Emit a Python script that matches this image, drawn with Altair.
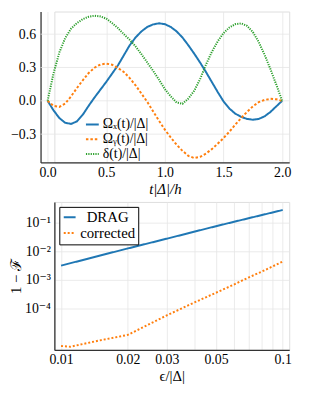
import altair as alt
import pandas as pd

# ---------------- data ----------------
t = [0.0, 0.05, 0.1, 0.15, 0.2, 0.25, 0.3, 0.35, 0.4, 0.45, 0.5,
     0.55, 0.6, 0.65, 0.7, 0.75, 0.8, 0.85, 0.9, 0.95, 1.0,
     1.05, 1.1, 1.15, 1.2, 1.25, 1.3, 1.35, 1.4, 1.45, 1.5,
     1.55, 1.6, 1.65, 1.7, 1.75, 1.8, 1.85, 1.9, 1.95, 2.0]
omega_x = [0.0, -0.085, -0.155, -0.198, -0.208, -0.185, -0.125, -0.045, 0.03, 0.10, 0.17,
           0.245, 0.32, 0.41, 0.50, 0.57, 0.625, 0.665, 0.688, 0.698, 0.69,
           0.665, 0.625, 0.57, 0.50, 0.425, 0.345, 0.26, 0.17, 0.08, -0.005,
           -0.07, -0.115, -0.145, -0.163, -0.17, -0.163, -0.14, -0.10, -0.05, 0.0]
omega_y = [0.0, -0.045, -0.055, -0.025, 0.04, 0.115, 0.185, 0.25, 0.298, 0.327, 0.335,
           0.325, 0.295, 0.26, 0.205, 0.14, 0.065, -0.01, -0.095, -0.18, -0.26,
           -0.33, -0.395, -0.45, -0.495, -0.515, -0.505, -0.475, -0.435, -0.387, -0.335,
           -0.278, -0.215, -0.155, -0.1, -0.05, -0.012, 0.008, 0.018, 0.014, 0.0]
delta = [0.0, 0.245, 0.435, 0.565, 0.65, 0.70, 0.735, 0.757, 0.766, 0.76, 0.74,
         0.70, 0.655, 0.60, 0.55, 0.49, 0.42, 0.345, 0.27, 0.19, 0.105,
         0.04, -0.015, -0.027, 0.02, 0.09, 0.195, 0.325, 0.44, 0.535, 0.61,
         0.66, 0.69, 0.697, 0.675, 0.62, 0.53, 0.415, 0.285, 0.145, 0.0]
top_names = ["Ωₓ(t)/|Δ|", "Ωᵧ(t)/|Δ|", "δ(t)/|Δ|"]

eps_drag = [0.01, 0.02, 0.03, 0.05, 0.07, 0.1]
infid_drag = [3.16e-3, 1.27e-2, 2.8e-2, 7.7e-2, 0.146, 0.286]
eps_corr = [0.01, 0.011, 0.015, 0.02, 0.03, 0.04, 0.05, 0.06, 0.07, 0.08, 0.09, 0.1]
infid_corr = [4.7e-6, 4.4e-6, 7.4e-6, 1.15e-5, 5.6e-5, 1.6e-4, 3.5e-4, 6.7e-4,
              1.2e-3, 1.9e-3, 2.95e-3, 4.4e-3]
bottom_names = ["DRAG", "corrected"]

x_domain_top = [-0.06, 2.06]
y_domain_top = [-0.555, 0.804]
x_ticks_top = [0.0, 0.5, 1.0, 1.5, 2.0]
y_ticks_top = [-0.3, 0.0, 0.3, 0.6]
x_grid_bottom = [0.01, 0.02, 0.03, 0.04, 0.05, 0.06, 0.07, 0.08, 0.09, 0.1]
y_ticks_bottom = [0.1, 0.01, 0.001, 0.0001]

# ---------------- tables ----------------
rows = []
for name, vals in zip(top_names, [omega_x, omega_y, delta]):
    for ti, v in zip(t, vals):
        rows.append({"t": ti, "v": v, "series": name})
df_top = pd.DataFrame(rows)
df_ygrid = pd.DataFrame({"t": [x_domain_top[0]] * len(y_ticks_top),
                         "t2": [x_domain_top[1]] * len(y_ticks_top),
                         "v": y_ticks_top})

rows = []
for name, xs, ys in [(bottom_names[0], eps_drag, infid_drag),
                     (bottom_names[1], eps_corr, infid_corr)]:
    for e, f in zip(xs, ys):
        rows.append({"eps": e, "f": f, "series": name})
df_bot = pd.DataFrame(rows)

SERIF = "'Liberation Serif', 'Times New Roman', 'DejaVu Serif', serif"
BLUE, ORANGE, GREEN = "#1f77b4", "#ff7f0e", "#2ca02c"
GRID = "#e6e6e6"
AX = "#333333"

W = 238          # panel width; the top plot extends SHIFT px further left
SHIFT = 14

def axis(**kw):
    base = dict(domainColor=AX, domainWidth=1.3, gridColor=GRID, gridWidth=0.8,
                ticks=False, labelFont=SERIF, labelFontSize=14, labelColor="black",
                titleFont=SERIF, titleFontSize=15, titleFontWeight="normal",
                titleColor="black")
    base.update(kw)
    return alt.Axis(**base)

x_axis_top = axis(values=x_ticks_top, format=".1f", title="t|Δ|/h",
                  titleFontStyle="italic", labelPadding=3, titlePadding=2,
                  titleX=(W - SHIFT) / 2)
y_axis_top = axis(values=y_ticks_top, format=".1f", title=None, labelPadding=5,
                  offset=SHIFT, grid=False)
x_scale_top = alt.Scale(domain=x_domain_top, range=[-SHIFT, W], nice=False, zero=False)
y_scale_top = alt.Scale(domain=y_domain_top, nice=False, zero=False)

top_legend = alt.Legend(title=None, orient="none", legendX=31, legendY=107,
                        symbolType="stroke", symbolSize=169, symbolStrokeWidth=2,
                        labelFont=SERIF, labelFontSize=14, labelColor="black",
                        labelOffset=3, rowPadding=0, padding=0)

grid_top = alt.Chart(df_ygrid).mark_rule(color=GRID, strokeWidth=0.8).encode(
    x=alt.X("t:Q", scale=x_scale_top, axis=x_axis_top),
    x2="t2:Q",
    y=alt.Y("v:Q", scale=y_scale_top, axis=y_axis_top),
)

lines_top = alt.Chart(df_top).mark_line(strokeWidth=2).encode(
    x=alt.X("t:Q", scale=x_scale_top, axis=x_axis_top),
    y=alt.Y("v:Q", scale=y_scale_top, axis=y_axis_top),
    color=alt.Color("series:N", sort=top_names,
                    scale=alt.Scale(domain=top_names, range=[BLUE, ORANGE, GREEN]),
                    legend=top_legend),
    strokeDash=alt.StrokeDash("series:N", sort=top_names,
                              scale=alt.Scale(domain=top_names,
                                              range=[[1, 0], [2.5, 2], [1.2, 1.2]]),
                              legend=top_legend),
    detail="series:N",
)

top = alt.layer(grid_top, lines_top).properties(width=W, height=153)

bot_legend = alt.Legend(title=None, orient="none", legendX=5, legendY=5,
                        symbolType="stroke", symbolSize=144, symbolStrokeWidth=2,
                        labelFont=SERIF, labelFontSize=15, labelColor="black",
                        labelAlign="center", labelOffset=31, rowPadding=0,
                        padding=3, strokeColor="black", fillColor="white")

x_lab = ("indexof(['0.01','0.02','0.03','0.05','0.1'], format(datum.value, '~g')) >= 0"
         " ? format(datum.value, '~g') : ''")
y_lab = ("'10' + ({'-1': '⁻¹', '-2': '⁻²', '-3': '⁻³', '-4': '⁻⁴'})"
         "[toString(round(log(datum.value) / LN10))]")

bottom = alt.Chart(df_bot).mark_line(strokeWidth=2).encode(
    x=alt.X("eps:Q", scale=alt.Scale(type="log", domain=[0.00933, 0.107], nice=False),
            axis=axis(values=x_grid_bottom, labelExpr=x_lab, title="ϵ/|Δ|",
                      labelPadding=3, titlePadding=2)),
    y=alt.Y("f:Q", scale=alt.Scale(type="log", domain=[3.4e-6, 0.55], nice=False),
            axis=axis(values=y_ticks_bottom, labelExpr=y_lab, title="1 − ℱ",
                      labelPadding=4, titlePadding=1)),
    color=alt.Color("series:N", sort=bottom_names,
                    scale=alt.Scale(domain=bottom_names, range=[BLUE, ORANGE]),
                    legend=bot_legend),
    strokeDash=alt.StrokeDash("series:N", sort=bottom_names,
                              scale=alt.Scale(domain=bottom_names, range=[[1, 0], [2, 2]]),
                              legend=bot_legend),
    detail="series:N",
).properties(width=W, height=150)

chart = alt.vconcat(top, bottom, spacing=4).resolve_scale(
    color="independent", strokeDash="independent"
).resolve_legend(color="independent", strokeDash="independent").configure_view(
    stroke=None
).configure(background="white", padding=0)

chart.save("out.html", embed_options={"renderer": "svg", "actions": False})
